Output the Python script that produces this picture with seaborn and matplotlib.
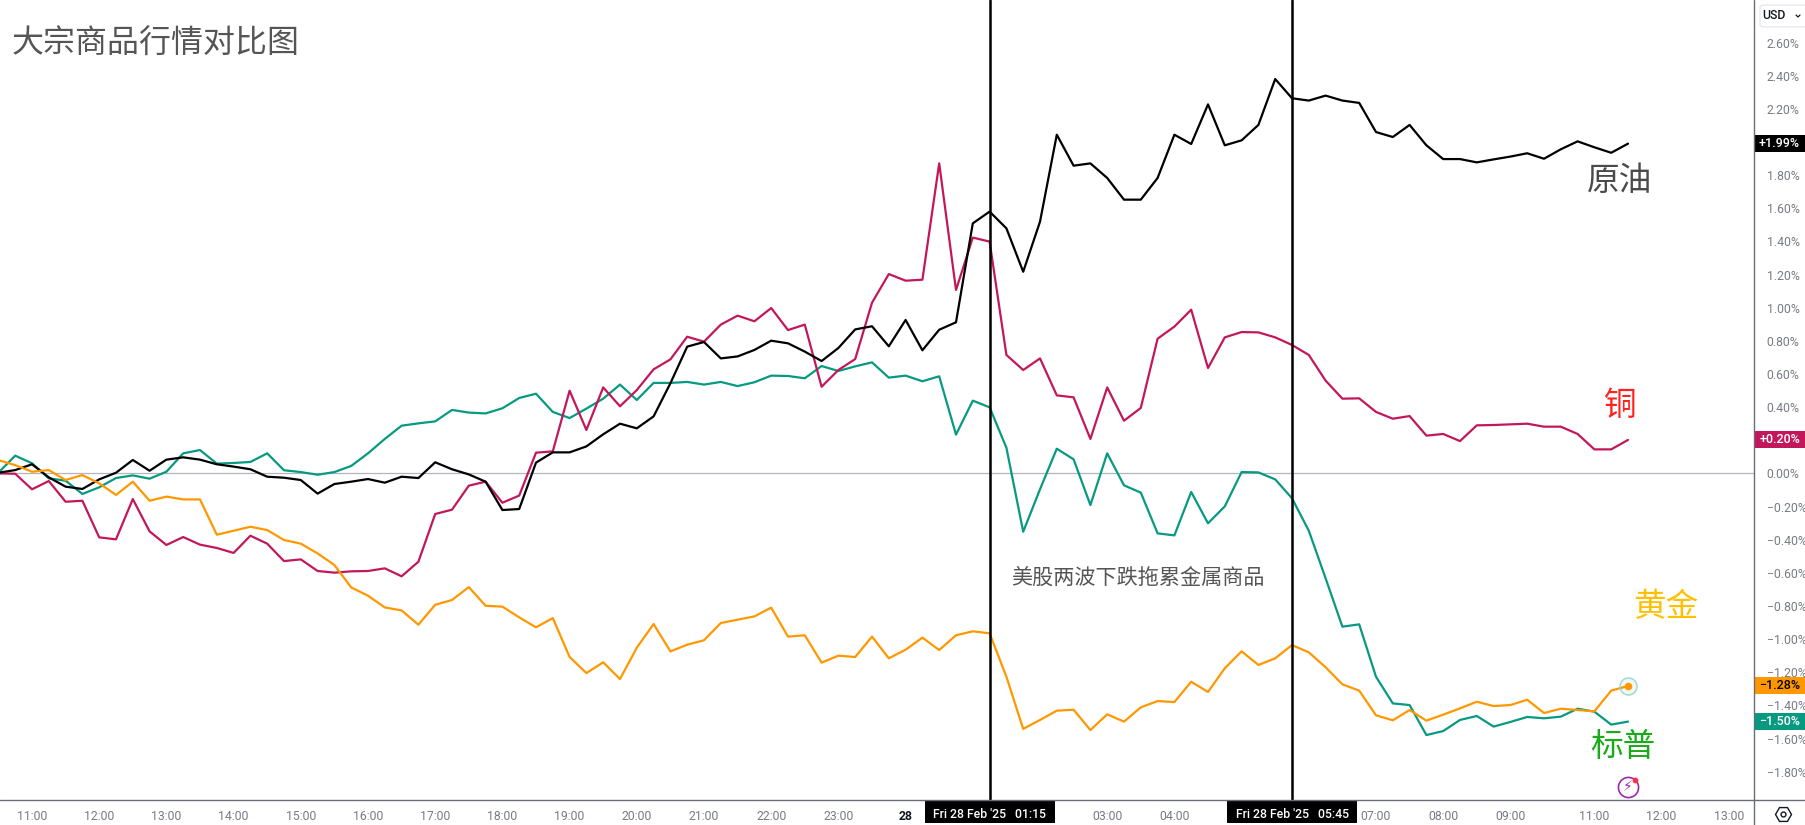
import numpy as np
import pandas as pd
import matplotlib
matplotlib.use('Agg')
import matplotlib.pyplot as plt
from matplotlib.lines import Line2D
from matplotlib.patches import Rectangle, FancyBboxPatch
import seaborn as sns

# values in %, one point every 15 minutes
crude = [0.004, 0.020, 0.055, -0.024, -0.080, -0.094, -0.036, 0.004, 0.081, 0.016,
         0.083, 0.097, 0.083, 0.055, 0.041, 0.025, -0.020, -0.026, -0.040, -0.122,
         -0.064, -0.050, -0.034, -0.056, -0.020, -0.028, 0.067, 0.025, -0.006, -0.050,
         -0.221, -0.215, 0.065, 0.127, 0.127, 0.163, 0.236, 0.300, 0.272, 0.344,
         0.544, 0.765, 0.793, 0.694, 0.706, 0.745, 0.801, 0.785, 0.735, 0.678,
         0.757, 0.869, 0.888, 0.767, 0.926, 0.743, 0.867, 0.912, 1.509, 1.580,
         1.479, 1.217, 1.519, 2.044, 1.857, 1.871, 1.783, 1.652, 1.652, 1.783,
         2.044, 1.988, 2.227, 1.980, 2.010, 2.103, 2.380, 2.264, 2.250, 2.280,
         2.250, 2.236, 2.060, 2.030, 2.103, 1.980, 1.897, 1.897, 1.877, 1.895,
         1.912, 1.932, 1.899, 1.956, 2.004, 1.968, 1.935, 1.990]
copper = [0.000, -0.002, -0.096, -0.046, -0.171, -0.165, -0.386, -0.398, -0.155, -0.350,
          -0.432, -0.384, -0.430, -0.450, -0.480, -0.376, -0.424, -0.529, -0.519, -0.589,
          -0.599, -0.591, -0.589, -0.573, -0.621, -0.533, -0.245, -0.219, -0.074, -0.050,
          -0.177, -0.134, 0.125, 0.133, 0.499, 0.262, 0.519, 0.405, 0.503, 0.628,
          0.688, 0.825, 0.795, 0.898, 0.952, 0.918, 0.998, 0.865, 0.898, 0.523,
          0.624, 0.690, 1.030, 1.203, 1.163, 1.169, 1.871, 1.107, 1.423, 1.399,
          0.715, 0.624, 0.694, 0.471, 0.459, 0.208, 0.519, 0.318, 0.395, 0.813,
          0.886, 0.988, 0.636, 0.821, 0.853, 0.851, 0.821, 0.775, 0.715, 0.560,
          0.451, 0.453, 0.371, 0.330, 0.346, 0.228, 0.238, 0.195, 0.290, 0.292,
          0.296, 0.300, 0.282, 0.282, 0.238, 0.145, 0.145, 0.202]
gold = [0.080, 0.050, 0.010, 0.020, -0.040, -0.010, -0.060, -0.130, -0.050, -0.165,
        -0.140, -0.157, -0.157, -0.370, -0.346, -0.322, -0.342, -0.402, -0.424, -0.483,
        -0.553, -0.688, -0.738, -0.809, -0.827, -0.913, -0.793, -0.764, -0.686, -0.799,
        -0.804, -0.869, -0.929, -0.873, -1.108, -1.205, -1.140, -1.241, -1.052, -0.909,
        -1.074, -1.034, -1.007, -0.903, -0.883, -0.863, -0.810, -0.985, -0.977, -1.142,
        -1.100, -1.108, -0.985, -1.116, -1.064, -0.991, -1.066, -0.977, -0.953, -0.965,
        -1.227, -1.542, -1.488, -1.432, -1.426, -1.549, -1.454, -1.498, -1.412, -1.374,
        -1.380, -1.257, -1.319, -1.176, -1.074, -1.156, -1.116, -1.036, -1.080, -1.170,
        -1.273, -1.311, -1.460, -1.490, -1.428, -1.492, -1.456, -1.418, -1.378, -1.404,
        -1.398, -1.366, -1.446, -1.420, -1.428, -1.436, -1.311, -1.283]
spx = [0.004, 0.107, 0.061, -0.030, -0.044, -0.124, -0.084, -0.028, -0.012, -0.032,
       0.010, 0.121, 0.141, 0.059, 0.063, 0.069, 0.121, 0.019, 0.008, -0.008,
       0.008, 0.045, 0.121, 0.208, 0.288, 0.302, 0.314, 0.383, 0.367, 0.362,
       0.393, 0.455, 0.481, 0.371, 0.334, 0.391, 0.451, 0.536, 0.443, 0.546,
       0.546, 0.552, 0.536, 0.552, 0.527, 0.550, 0.590, 0.588, 0.574, 0.648,
       0.618, 0.646, 0.670, 0.578, 0.590, 0.556, 0.586, 0.234, 0.439, 0.399,
       0.155, -0.352, -0.096, 0.149, 0.085, -0.191, 0.121, -0.072, -0.116, -0.362,
       -0.374, -0.112, -0.301, -0.199, 0.008, 0.006, -0.036, -0.150, -0.346, -0.633,
       -0.925, -0.911, -1.227, -1.388, -1.398, -1.579, -1.555, -1.488, -1.464, -1.528,
       -1.500, -1.470, -1.478, -1.468, -1.420, -1.438, -1.516, -1.498]

x_ticks = [0, 4, 8, 12, 16, 20, 24, 28, 32, 36, 40, 44, 48, 64, 68, 80, 84, 88, 93, 97, 101]
x_labels = ['11:00', '12:00', '13:00', '14:00', '15:00', '16:00', '17:00', '18:00', '19:00',
            '20:00', '21:00', '22:00', '23:00', '03:00', '04:00', '07:00', '08:00', '09:00',
            '11:00', '12:00', '13:00']
day_tick = 52
day_label = '28'
marked_bars = [57, 75]
marked_labels = ["Fri 28 Feb '25   01:15", "Fri 28 Feb '25   05:45"]
# 2.00% and 0.20% sit under the last value boxes, the reference does not show them
y_ticks = [2.6, 2.4, 2.2, 1.8, 1.6, 1.4, 1.2, 1.0, 0.8, 0.6, 0.4, 0.0,
           -0.2, -0.4, -0.6, -0.8, -1.0, -1.2, -1.4, -1.6, -1.8]

colors = {'spx': '#089981', 'copper': '#c2185b', 'crude': '#000000', 'gold': '#ff9800'}

W, H = 1805, 825
AXIS_X, AXIS_Y = 1754, 800
grey = '#787b86'
cjk = ['Noto Sans CJK SC', 'DejaVu Sans']


def fx(px):
    return px / W


def fy(px):
    return 1 - px / H


sns.set_theme(style='white')
plt.rcParams['font.family'] = ['Roboto', 'Noto Sans CJK SC', 'DejaVu Sans']

bars = np.arange(len(crude)) - 2
df = pd.DataFrame({'bar': bars, 'spx': spx, 'copper': copper, 'crude': crude, 'gold': gold})
long_df = df.melt(id_vars='bar', var_name='series', value_name='pct')

fig = plt.figure(figsize=(W / 100, H / 100), dpi=100, facecolor='white')
ax = fig.add_axes([0, 1 - AXIS_Y / H, AXIS_X / W, AXIS_Y / H])

ax.axhline(0, color='#b2b5be', lw=0.9, zorder=1)
sns.lineplot(data=long_df, x='bar', y='pct', hue='series', hue_order=list(colors),
             palette=colors, linewidth=1.6, legend=False, estimator=None, ax=ax, zorder=3)
for b in marked_bars:
    ax.axvline(b, color='black', lw=1.8, zorder=4)

ax.set_xlim(-32 / 16.8, (AXIS_X - 32) / 16.8)
ax.set_ylim((473.4 - AXIS_Y) / 165.7, 473.4 / 165.7)
ax.set_xlabel('')
ax.set_ylabel('')
for s in ax.spines.values():
    s.set_visible(False)

ax.set_xticks(x_ticks + [day_tick])
ax.set_xticklabels(x_labels + [day_label])
ax.tick_params(axis='x', length=0, pad=7, labelsize=8.8, labelcolor=grey)
ax.get_xticklabels()[-1].set_color('#131722')
ax.get_xticklabels()[-1].set_fontweight('bold')

ax.yaxis.tick_right()
ax.set_yticks(y_ticks)
ax.set_yticklabels([f'{v:.2f}%'.replace('-', '\u2212') for v in y_ticks])
ax.tick_params(axis='y', length=0, pad=9, labelsize=8.8, labelcolor=grey)

# last value boxes on the price scale
box_w = (W - AXIS_X) / AXIS_X
box_h = 8.5 / 165.7
for name, txt_c in [('crude', 'white'), ('copper', 'white'), ('gold', 'black'), ('spx', 'white')]:
    last = df[name].iloc[-1]
    ax.add_patch(Rectangle((1.0006, last - box_h), box_w, 2 * box_h, transform=ax.get_yaxis_transform(),
                           facecolor=colors[name], edgecolor='none', clip_on=False, zorder=6))
    ax.text(1 + box_w / 2, last, f'{last:+.2f}%'.replace('-', '\u2212'), transform=ax.get_yaxis_transform(),
            ha='center', va='center', color=txt_c, fontsize=9, fontweight='medium', clip_on=False, zorder=7)

# end point marker on gold
ax.scatter(bars[-1], gold[-1], s=150, facecolor='#08998110', edgecolor='#9ad6cb', linewidth=1, zorder=5)
ax.scatter(bars[-1], gold[-1], s=30, color=colors['gold'], linewidth=0, zorder=6)

# axis lines run out to the edges of the picture
fig.add_artist(Line2D([fx(AXIS_X), fx(AXIS_X)], [0, 1], color='#6a6d78', lw=1))
fig.add_artist(Line2D([0, 1], [fy(AXIS_Y), fy(AXIS_Y)], color='#6a6d78', lw=1))

# date boxes on the time scale
for b, lab in zip(marked_bars, marked_labels):
    cx = (b + 32 / 16.8) * 16.8
    fig.add_artist(Rectangle((fx(cx - 65), fy(823)), 130 / W, 23 / H, transform=fig.transFigure,
                             facecolor='black', edgecolor='none'))
    fig.text(fx(cx), fy(814), lab, color='white', fontsize=8.8, fontweight='medium', ha='center', va='center')

# texts
fig.text(fx(12), fy(44), '大宗商品行情对比图', family=cjk, fontsize=23, color='#555555', va='center')
fig.text(fx(1620), fy(181), '原油', family=cjk, fontsize=23.5, color='#4a4a4a', ha='center', va='center')
fig.text(fx(1620), fy(406), '铜', family=cjk, fontsize=23.5, color='#ff2020', ha='center', va='center')
fig.text(fx(1666), fy(607), '黄金', family=cjk, fontsize=23.5, color='#ffc000', ha='center', va='center')
fig.text(fx(1623), fy(747), '标普', family=cjk, fontsize=23.5, color='#1aaa1a', ha='center', va='center')
fig.text(fx(1138), fy(578), '美股两波下跌拖累金属商品', family=cjk, fontsize=15.2, color='#555555',
         ha='center', va='center')

# USD button
fig.add_artist(FancyBboxPatch((fx(1760), fy(27)), 60 / W, 22 / H, boxstyle='round,pad=0,rounding_size=0.003',
                              transform=fig.transFigure, facecolor='white', edgecolor='#e0e3eb', lw=0.8))
fig.text(fx(1762), fy(15.5), 'USD', fontsize=8.8, color='#131722', va='center', fontweight='medium')
fig.add_artist(Line2D([fx(1796), fx(1798), fx(1800)], [fy(15), fy(17), fy(15)], color='#131722', lw=0.9))

# settings icon
fig.add_artist(Line2D([fx(1783)], [fy(814)], marker='H', ms=11.5, mfc='none', mec='#131722', mew=1))
fig.add_artist(Line2D([fx(1783)], [fy(814)], marker='o', ms=3.5, mfc='none', mec='#131722', mew=1))

# lightning icon
fig.add_artist(Line2D([fx(1628)], [fy(787)], marker='o', ms=14.5, mfc='white', mec='#9c27b0', mew=1.2))
fig.text(fx(1628), fy(787), '\u26a1', family='DejaVu Sans', fontsize=10, color='#9c27b0', ha='center', va='center')
fig.add_artist(Line2D([fx(1635)], [fy(780)], marker='o', ms=4.2, mfc='#f23645', mec='none'))

fig.savefig('out.png', dpi=100)
